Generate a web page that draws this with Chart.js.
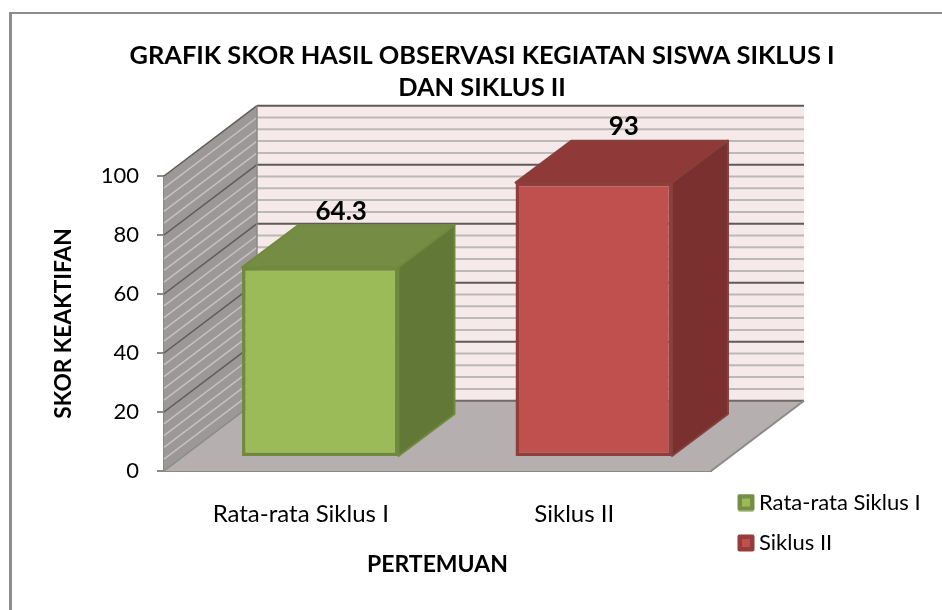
<!DOCTYPE html>
<html><head><meta charset="utf-8">
<style>html,body{margin:0;padding:0;background:#fff}canvas{display:block}</style>
<script src="https://cdn.jsdelivr.net/npm/chart.js@4/dist/chart.umd.min.js"></script>
</head><body><canvas id="c" width="942" height="610"></canvas>
<script>
const categories = ['Rata-rata Siklus I', 'Siklus II'];
const siklusOne = [64.3, null];
const siklusTwo = [null, 93];
const titleLines = ['GRAFIK SKOR HASIL OBSERVASI KEGIATAN SISWA SIKLUS I', 'DAN SIKLUS II'];
const FONT = 'Lato';
const wall = {dx: 93, dy: -70.3};          // 3D depth of the walls
const bar3d = {ox: 19.5, oy: -14, dx: 56, dy: -42}; // bar plane offset + depth
const faces = [
  {top: '#748c44', side: '#617837', edge: '#6f8a3c'},
  {top: '#8f3a38', side: '#7a302e', edge: '#86403c'}
];
function swatch(fill, stroke) {
  const s = document.createElement('canvas'); s.width = 18; s.height = 18;
  const g = s.getContext('2d');
  g.fillStyle = stroke; g.beginPath(); g.roundRect(0.5, 0.5, 17, 17, 2); g.fill();
  g.fillStyle = fill; g.fillRect(5, 5, 8, 8);
  return s;
}
function poly(ctx, pts, fill, stroke, lw) {
  ctx.beginPath(); pts.forEach((p, i) => i ? ctx.lineTo(p[0], p[1]) : ctx.moveTo(p[0], p[1])); ctx.closePath();
  if (fill) { ctx.fillStyle = fill; ctx.fill(); }
  if (stroke) { ctx.strokeStyle = stroke; ctx.lineWidth = lw || 1; ctx.stroke(); }
}
function line(ctx, a, b, c, lw) { ctx.beginPath(); ctx.moveTo(a[0], a[1]); ctx.lineTo(b[0], b[1]); ctx.strokeStyle = c; ctx.lineWidth = lw; ctx.stroke(); }

const scene = {
  id: 'scene',
  beforeLayout(chart) {
    const lg = chart.legend;
    if (lg && !lg._patched) {
      const f = lg.fit;
      lg.fit = function () { f.call(this); this.width = 231; };
      lg._patched = true;
    }
  },
  afterLayout(chart) {
    const lg = chart.legend;
    lg.left = 725.5; lg.right = 942; lg.top = 473; lg.bottom = 610;
    lg.width = 216.5; lg.height = 137;
  },
  beforeDraw(chart) {
    const c = chart.ctx;
    c.save();
    line(c, [10.5, 13], [942, 13], '#8c8c8c', 2);
    line(c, [10.5, 12], [10.5, 610], '#8c8c8c', 3);
    c.restore();
  },
  beforeDatasetsDraw(chart) {
    const c = chart.ctx, y = chart.scales.y, a = chart.chartArea;
    const {dx, dy} = wall;
    const L = a.left, R = a.right, y0 = y.getPixelForValue(0), y100 = y.getPixelForValue(100);
    c.save();
    poly(c, [[L + dx, y0 + dy], [R + dx, y0 + dy], [R + dx, y100 + dy], [L + dx, y100 + dy]], '#f5e9e9');
    poly(c, [[L, y0], [L, y100], [L + dx, y100 + dy], [L + dx, y0 + dy]], '#9c9898');
    for (let v = 0; v <= 100; v += 4) {
      const p = y.getPixelForValue(v), major = v % 20 === 0;
      if (v > 0) line(c, [L + dx, p + dy], [R + dx, p + dy], major ? '#5e5a5a' : '#bdb8b8', 2);
      if (v > 0) line(c, [L, p], [L + dx, p + dy], major ? '#5e5a5a' : '#c6c2c2', 1.5);
    }
    line(c, [L + dx, y100 + dy], [L + dx, y0 + dy], '#8c8888', 1.5);
    poly(c, [[L, y0], [R, y0], [R + dx, y0 + dy], [L + dx, y0 + dy]], '#b5afaf');
    line(c, [L + dx, y0 + dy], [R + dx, y0 + dy], '#6e6a6a', 2);
    line(c, [R, y0], [R + dx, y0 + dy], '#8a8a8a', 2);
    line(c, [L, y0], [L + dx, y0 + dy], '#8a8a8a', 1.5);
    c.restore();
  },
  beforeDatasetDraw(chart, args) {
    const c = chart.ctx, i = args.index, f = faces[i];
    const el = chart.getDatasetMeta(i).data.find((e, k) => chart.data.datasets[i].data[k] != null);
    const {ox, oy, dx, dy} = bar3d;
    const l = el.x - el.width / 2 + ox, r = el.x + el.width / 2 + ox, t = el.y + oy, b = el.base + oy;
    c.save();
    c.lineJoin = 'round';
    poly(c, [[l, t], [r, t], [r + dx, t + dy], [l + dx, t + dy]], f.top, f.edge, 2);
    poly(c, [[r, t], [r + dx, t + dy], [r + dx, b + dy], [r, b]], f.side, f.edge, 2);
    c.restore();
    c.save();
    c.translate(ox, oy);
  },
  afterDatasetDraw(chart) { chart.ctx.restore(); },
  afterDatasetsDraw(chart) {
    const c = chart.ctx, a = chart.chartArea, mid = (a.left + a.right) / 2;
    c.save();
    c.fillStyle = '#000'; c.textAlign = 'center'; c.textBaseline = 'middle';
    c.font = 'bold 26px ' + FONT;
    chart.data.datasets.forEach((ds, i) => {
      chart.getDatasetMeta(i).data.forEach((el, k) => {
        if (ds.data[k] == null) return;
        c.fillText(String(ds.data[k]), mid + (el.x - mid) * 1.033 + 45, el.y - 70);
      });
    });
    c.restore();
  }
};

new Chart(document.getElementById('c'), {
  type: 'bar',
  data: {
    labels: categories,
    datasets: [
      {label: categories[0], data: siklusOne, backgroundColor: '#9bbb59', borderColor: '#71893f', borderWidth: 3.5, borderSkipped: false, barPercentage: 0.572, categoryPercentage: 1, clip: false},
      {label: categories[1], data: siklusTwo, backgroundColor: '#c0504d', borderColor: '#8f3e3c', borderWidth: 3.5, borderSkipped: false, barPercentage: 0.572, categoryPercentage: 1, clip: false}
    ]
  },
  options: {
    responsive: false, animation: false,
    layout: {padding: {left: 22, right: 0, top: 0, bottom: 0}},
    scales: {
      x: {
        stacked: true,
        grid: {display: false, drawTicks: false},
        border: {display: true, color: '#8a8a8a', width: 2},
        ticks: {color: '#000', font: {family: FONT, size: 24}, padding: 29, maxRotation: 0},
        title: {display: true, text: 'PERTEMUAN', color: '#000', font: {family: FONT, size: 23, weight: 'bold'}, padding: {top: 0, bottom: 32}},
        afterFit(s) { s.height = 139; }
      },
      y: {
        stacked: true, min: 0, max: 100,
        grid: {drawOnChartArea: false, drawTicks: true, tickLength: 7, color: '#8a8a8a', lineWidth: 2},
        border: {display: true, color: '#8a8a8a', width: 2},
        ticks: {stepSize: 20, color: '#000', font: {family: FONT, size: 22}, padding: 18},
        title: {display: true, text: 'SKOR KEAKTIFAN', color: '#000', font: {family: FONT, size: 22.7, weight: 'bold'}, padding: {top: 28, bottom: 0}},
        afterFit(s) { s.width = 142; }
      }
    },
    plugins: {
      tooltip: {enabled: false},
      title: {
        display: true, text: titleLines, color: '#000',
        font: {family: FONT, size: 25.4, weight: 'bold', lineHeight: 32 / 25.4},
        padding: {top: 40, bottom: 72}
      },
      legend: {
        position: 'right', align: 'start',
        labels: {
          color: '#000', font: {family: FONT, size: 22}, padding: 18.5, usePointStyle: true, boxHeight: 4, boxWidth: 4,
          generateLabels: () => [
            {text: categories[0], pointStyle: swatch('#9bbb59', '#768f45'), datasetIndex: 0, lineWidth: 0, fillStyle: '#9bbb59', strokeStyle: '#768f45'},
            {text: categories[1], pointStyle: swatch('#c0504d', '#953d3b'), datasetIndex: 1, lineWidth: 0, fillStyle: '#c0504d', strokeStyle: '#953d3b'}
          ]
        }
      }
    }
  },
  plugins: [scene]
});
</script></body></html>
